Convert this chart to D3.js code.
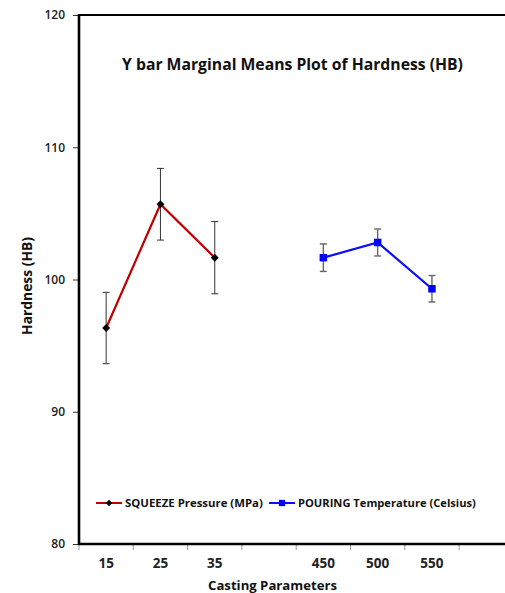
<!DOCTYPE html>
<html>
<head>
<meta charset="utf-8">
<script src="https://cdn.jsdelivr.net/npm/d3@7/dist/d3.min.js"></script>
<style>
  html, body { margin: 0; padding: 0; background: #fff; }
  svg { display: block; }
  text { font-family: "Open Sans", "Noto Sans", sans-serif; }
</style>
</head>
<body>
<svg id="chart" width="505" height="593"></svg>
<script>
// Category slots along the x axis (blank slots separate the two factors)
const slotLabels = ["15", "25", "35", "", "450", "500", "550", ""];

// Squeeze pressure factor (MPa)
const squeezeLevels = ["15", "25", "35"];
const squeezeMeans = [96.33, 105.69, 101.65];
const squeezeErr = [2.7, 2.71, 2.73];

// Pouring temperature factor (Celsius)
const pouringLevels = ["450", "500", "550"];
const pouringMeans = [101.65, 102.80, 99.30];
const pouringErr = [1.04, 1.02, 1.0];

const yTicks = [80, 90, 100, 110, 120];

(function () {
const svg = d3.select("#chart");
const plotLeft = 79, plotTop = 15, plotBottom = 544;
const slotW = 54.3;
const fontStack = "'Open Sans', 'Noto Sans', sans-serif";

// scale a text's font size so it spans the given width
function fitWidth(sel, width) {
  const node = sel.node();
  const w = node.getComputedTextLength();
  const fs = parseFloat(sel.attr("font-size"));
  if (w > 0) sel.attr("font-size", (fs * width / w).toFixed(2));
  return sel;
}

const x = d3.scaleBand()
  .domain(d3.range(slotLabels.length))
  .range([plotLeft, plotLeft + slotW * slotLabels.length])
  .paddingInner(0).paddingOuter(0);

const y = d3.scaleLinear().domain([80, 120]).range([plotBottom, plotTop]);

const xc = i => x(i) + x.bandwidth() / 2;
const slotOf = lab => slotLabels.indexOf(lab);

// Title
fitWidth(svg.append("text")
  .attr("x", 292.5).attr("y", 70)
  .attr("text-anchor", "middle")
  .attr("font-size", 15).attr("font-weight", "bold")
  .attr("fill", "#111")
  .text("Y bar Marginal Means Plot of Hardness (HB)"), 341);

// Top frame line
svg.append("line")
  .attr("x1", plotLeft).attr("x2", 505)
  .attr("y1", y(120)).attr("y2", y(120))
  .attr("stroke", "#000").attr("stroke-width", 2.2);

// Y axis
const yAxis = d3.axisLeft(y).tickValues(yTicks).tickSize(6).tickPadding(8);
const gy = svg.append("g").attr("transform", `translate(${plotLeft},0)`).call(yAxis);
gy.select(".domain").remove();
gy.selectAll(".tick line").attr("stroke", "#333").attr("stroke-width", 1);
gy.selectAll(".tick text")
  .attr("font-size", 12).attr("font-weight", 600).attr("fill", "#222")
  .style("font-family", fontStack);
svg.append("line")
  .attr("x1", plotLeft).attr("x2", plotLeft)
  .attr("y1", y(120) - 1).attr("y2", plotBottom + 1)
  .attr("stroke", "#000").attr("stroke-width", 2.6);

// X axis: labels centred in slots, tick marks on slot boundaries
const xAxis = d3.axisBottom(x).tickSize(0).tickPadding(14)
  .tickFormat(i => slotLabels[i]);
const gx = svg.append("g").attr("transform", `translate(0,${plotBottom})`).call(xAxis);
gx.select(".domain").remove();
gx.selectAll(".tick text")
  .attr("font-size", 13.5).attr("font-weight", "bold").attr("fill", "#222")
  .style("font-family", fontStack);
svg.append("g").selectAll("line")
  .data(d3.range(slotLabels.length))
  .join("line")
  .attr("x1", d => x(d)).attr("x2", d => x(d))
  .attr("y1", plotBottom).attr("y2", plotBottom + 6)
  .attr("stroke", "#999").attr("stroke-width", 1);
svg.append("line")
  .attr("x1", plotLeft - 1).attr("x2", 505)
  .attr("y1", plotBottom).attr("y2", plotBottom)
  .attr("stroke", "#000").attr("stroke-width", 2.6);

// Axis titles
fitWidth(svg.append("text")
  .attr("x", 272.5).attr("y", 590)
  .attr("text-anchor", "middle")
  .attr("font-size", 14).attr("font-weight", "bold").attr("fill", "#111")
  .text("Casting Parameters"), 129);
fitWidth(svg.append("text")
  .attr("transform", "translate(32,286) rotate(-90)")
  .attr("text-anchor", "middle")
  .attr("font-size", 14).attr("font-weight", "bold").attr("fill", "#111")
  .text("Hardness (HB)"), 98);

// Draw one factor: error bars, connecting line, markers
function drawSeries(levels, means, errs, opts) {
  const pts = levels.map((l, i) => ({ x: xc(slotOf(l)), m: means[i], e: errs[i] }));
  const g = svg.append("g");
  const eb = g.append("g").attr("stroke", opts.errColor).attr("stroke-width", opts.errWidth);
  pts.forEach(p => {
    eb.append("line").attr("x1", p.x).attr("x2", p.x).attr("y1", y(p.m - p.e)).attr("y2", y(p.m + p.e));
    eb.append("line").attr("x1", p.x - opts.cap).attr("x2", p.x + opts.cap).attr("y1", y(p.m + p.e)).attr("y2", y(p.m + p.e));
    eb.append("line").attr("x1", p.x - opts.cap).attr("x2", p.x + opts.cap).attr("y1", y(p.m - p.e)).attr("y2", y(p.m - p.e));
  });
  g.append("path")
    .datum(pts)
    .attr("fill", "none").attr("stroke", opts.color).attr("stroke-width", 2.2)
    .attr("d", d3.line().x(p => p.x).y(p => y(p.m)));
  g.selectAll("path.mk")
    .data(pts).join("path").attr("class", "mk")
    .attr("transform", p => `translate(${p.x},${y(p.m)})`)
    .attr("d", d3.symbol(opts.symbol, opts.symSize))
    .attr("fill", opts.markColor);
}

const squeezeStyle = { color: "#c00000", markColor: "#000", symbol: d3.symbolDiamond2, symSize: 40,
  errColor: "#333", errWidth: 1, cap: 3.5 };
const pouringStyle = { color: "#0a0aff", markColor: "#0000ff", symbol: d3.symbolSquare, symSize: 56,
  errColor: "#666", errWidth: 1.4, cap: 3.5 };

drawSeries(squeezeLevels, squeezeMeans, squeezeErr, squeezeStyle);
drawSeries(pouringLevels, pouringMeans, pouringErr, pouringStyle);

// Legend
const legendItems = [
  { label: "SQUEEZE Pressure (MPa)", style: squeezeStyle, x: 96, w: 138 },
  { label: "POURING Temperature (Celsius)", style: pouringStyle, x: 269, w: 178 }
];
const ly = 503;
legendItems.forEach(it => {
  const g = svg.append("g").attr("transform", `translate(${it.x},${ly})`);
  g.append("line").attr("x1", 0).attr("x2", 26).attr("y1", 0).attr("y2", 0)
    .attr("stroke", it.style.color).attr("stroke-width", 2);
  g.append("path").attr("transform", "translate(13,0)")
    .attr("d", d3.symbol(it.style.symbol, it.style.symSize * 0.7))
    .attr("fill", it.style.markColor);
  fitWidth(g.append("text").attr("x", 29).attr("y", 4)
    .attr("font-size", 11).attr("font-weight", "bold").attr("fill", "#111")
    .text(it.label), it.w);
});
})();
</script>
</body>
</html>
